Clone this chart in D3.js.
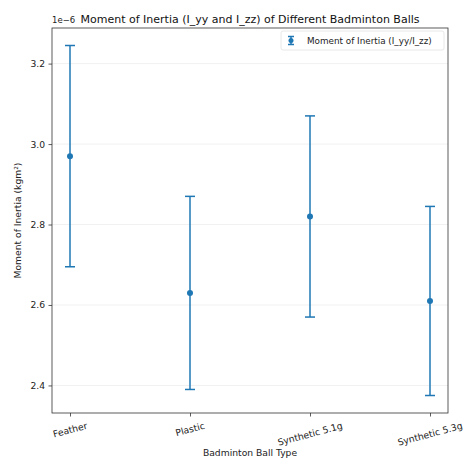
<!DOCTYPE html>
<html>
<head>
<meta charset="utf-8">
<script src="https://cdn.jsdelivr.net/npm/d3@7"></script>
<style>
  html, body { margin: 0; padding: 0; background: #fff; }
  svg { display: block; font-family: "DejaVu Sans", sans-serif; }
</style>
</head>
<body>
<svg id="chart" width="465" height="460"></svg>
<script>
// Ball types and measured moment of inertia (×1e-6 kg·m²) with spread
const ballTypes = ["Feather", "Plastic", "Synthetic 5.1g", "Synthetic 5.3g"];
const inertiaMean = [2.97, 2.63, 2.82, 2.61];
const inertiaErr = [0.275, 0.24, 0.25, 0.235];
const yTicks = [2.4, 2.6, 2.8, 3.0, 3.2];

const W = 465, H = 460;
const margin = { left: 52, right: 17, top: 28, bottom: 47 };
const plotL = margin.left, plotR = W - margin.right;
const plotT = margin.top, plotB = H - margin.bottom;
const blue = "#1f77b4";
const fs = 9.2;

const svg = d3.select("#chart");

// categorical positions with a 5% margin of the index range on each side
const x = d3.scalePoint()
  .domain(ballTypes)
  .range([plotL, plotR])
  .padding(0.15);

const lows = inertiaMean.map((m, i) => m - inertiaErr[i]);
const highs = inertiaMean.map((m, i) => m + inertiaErr[i]);
const lo = d3.min(lows), hi = d3.max(highs);
const pad = (hi - lo) * 0.05;
const y = d3.scaleLinear().domain([lo - pad, hi + pad]).range([plotB, plotT]);

// faint horizontal guides
svg.append("g")
  .selectAll("line")
  .data(yTicks)
  .join("line")
  .attr("x1", plotL).attr("x2", plotR)
  .attr("y1", d => y(d)).attr("y2", d => y(d))
  .attr("stroke", "#f1f1f1").attr("stroke-width", 1);

// y axis
const yAxis = svg.append("g")
  .attr("transform", `translate(${plotL},0)`)
  .call(d3.axisLeft(y).tickValues(yTicks).tickFormat(d3.format(".1f")).tickSize(3.5).tickPadding(3.5));
yAxis.select(".domain").remove();
yAxis.selectAll("line").attr("stroke", "#333").attr("stroke-width", 0.8);
yAxis.selectAll("text").attr("font-size", fs).attr("fill", "#222").attr("font-family", "DejaVu Sans");

// x axis
const xAxis = svg.append("g")
  .attr("transform", `translate(0,${plotB})`)
  .call(d3.axisBottom(x).tickSize(3.5).tickFormat(""));
xAxis.select(".domain").remove();
xAxis.selectAll("line").attr("stroke", "#333").attr("stroke-width", 0.8);

// rotated category labels, centred under each tick
const rot = 15 * Math.PI / 180;
const labels = svg.append("g");
ballTypes.forEach(name => {
  const t = labels.append("text")
    .text(name)
    .attr("font-size", fs)
    .attr("fill", "#222")
    .attr("text-anchor", "middle")
    .attr("dominant-baseline", "central");
  const w = t.node().getComputedTextLength();
  const h = fs * 1.15;
  const ext = w * Math.sin(rot) + h * Math.cos(rot);
  const cy = plotB + 3.5 + 3.5 + ext / 2;
  t.attr("transform", `translate(${x(name)},${cy}) rotate(-15)`);
});

// frame
svg.append("rect")
  .attr("x", plotL).attr("y", plotT)
  .attr("width", plotR - plotL).attr("height", plotB - plotT)
  .attr("fill", "none").attr("stroke", "#333").attr("stroke-width", 0.8);

// error bars
const cap = 5;
const bars = svg.append("g");
ballTypes.forEach((name, i) => {
  const cx = x(name);
  const g = bars.append("g").attr("stroke", blue).attr("stroke-width", 1.5);
  g.append("line").attr("x1", cx).attr("x2", cx).attr("y1", y(lows[i])).attr("y2", y(highs[i]));
  g.append("line").attr("x1", cx - cap).attr("x2", cx + cap).attr("y1", y(lows[i])).attr("y2", y(lows[i]));
  g.append("line").attr("x1", cx - cap).attr("x2", cx + cap).attr("y1", y(highs[i])).attr("y2", y(highs[i]));
  bars.append("circle").attr("cx", cx).attr("cy", y(inertiaMean[i])).attr("r", 3).attr("fill", blue);
});

// offset text for the exponent
svg.append("text")
  .attr("x", plotL).attr("y", plotT - 5)
  .attr("font-size", 8.5).attr("fill", "#222")
  .text("1e\u22126");

// title
svg.append("text")
  .attr("x", (plotL + plotR) / 2).attr("y", plotT - 5)
  .attr("text-anchor", "middle")
  .attr("font-size", 11).attr("fill", "#111")
  .text("Moment of Inertia (I_yy and I_zz) of Different Badminton Balls");

// axis titles
svg.append("text")
  .attr("x", (plotL + plotR) / 2).attr("y", 456)
  .attr("text-anchor", "middle")
  .attr("font-size", fs).attr("fill", "#222")
  .text("Badminton Ball Type");

svg.append("text")
  .attr("transform", `translate(21,${(plotT + plotB) / 2}) rotate(-90)`)
  .attr("text-anchor", "middle")
  .attr("font-size", fs).attr("fill", "#222")
  .text("Moment of Inertia (kgm\u00b2)");

// legend
const lg = svg.append("g");
const lgX = 281, lgY = 31, lgW = 163, lgH = 19;
lg.append("rect")
  .attr("x", lgX).attr("y", lgY).attr("width", lgW).attr("height", lgH)
  .attr("rx", 2).attr("fill", "#fff").attr("fill-opacity", 0.8)
  .attr("stroke", "#e2e2e2").attr("stroke-width", 0.8);
const mx = lgX + 10, my = lgY + lgH / 2;
const lgIcon = lg.append("g").attr("stroke", blue).attr("stroke-width", 1.5);
lgIcon.append("line").attr("x1", mx).attr("x2", mx).attr("y1", my - 4).attr("y2", my + 4);
lgIcon.append("line").attr("x1", mx - 3).attr("x2", mx + 3).attr("y1", my - 4).attr("y2", my - 4);
lgIcon.append("line").attr("x1", mx - 3).attr("x2", mx + 3).attr("y1", my + 4).attr("y2", my + 4);
lg.append("circle").attr("cx", mx).attr("cy", my).attr("r", 2.5).attr("fill", blue);
lg.append("text")
  .attr("x", lgX + 26).attr("y", my)
  .attr("dominant-baseline", "central")
  .attr("font-size", 8.8).attr("fill", "#222")
  .text("Moment of Inertia (I_yy/I_zz)");
</script>
</body>
</html>
